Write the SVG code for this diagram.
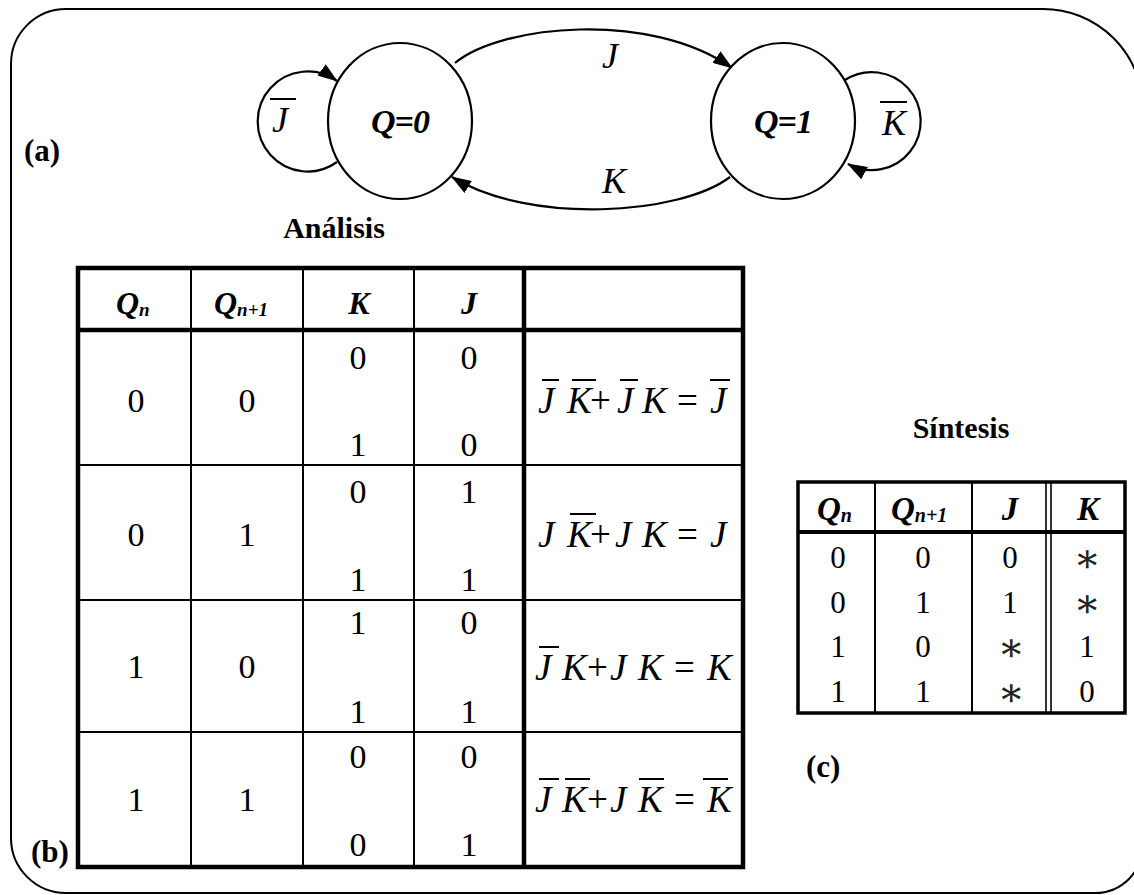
<svg xmlns="http://www.w3.org/2000/svg" width="1134" height="895" viewBox="0 0 1134 895">
<defs>
<marker id="arr" markerWidth="20" markerHeight="14" refX="19" refY="7" orient="auto" markerUnits="userSpaceOnUse">
<path d="M0,0 L20,7 L0,14 Z" fill="#000"/>
</marker>
<style>
.t{font-family:"Liberation Serif","Times New Roman",serif;fill:#000}
.bi{font-weight:bold;font-style:italic}
.b{font-weight:bold}
.i{font-style:italic}
.d{font-size:34px;text-anchor:middle}
.ds{font-size:31px;text-anchor:middle}
.ex{font-size:37px;font-style:italic}
.bar{stroke:#000;stroke-width:2}
.node{fill:#fff;stroke:#000;stroke-width:2.2}
.edge{fill:none;stroke:#000;stroke-width:2.2}
.thin{stroke:#000;stroke-width:2}
.thick{stroke:#000;stroke-width:4.5}
.star{font-family:"DejaVu Serif",serif;font-size:40px;text-anchor:middle;fill:#222}
</style>
</defs>
<rect width="1134" height="895" fill="#fff"/>
<path d="M11,64 A55,55 0 0 1 66,9 L1043,9 A100,100 0 0 1 1143,109 L1143,845 A48,48 0 0 1 1095,893 L66,893 A55,55 0 0 1 11,838 Z" fill="none" stroke="#000" stroke-width="2"/>

<g id="connectors">
<path class="edge" d="M337,162 A50,50 0 1 1 337,81" marker-end="url(#arr)"/>
<path class="edge" d="M845,80 A49,49 0 1 1 848,164" marker-end="url(#arr)"/>
<path class="edge" d="M455,63 C500,25 650,10 732,68" marker-end="url(#arr)"/>
<path class="edge" d="M730,177 C680,215 530,225 452,177" marker-end="url(#arr)"/>
<text class="t i" x="272" y="132" font-size="36">J</text>
<line class="bar" x1="270" y1="99" x2="296" y2="99"/>
<text class="t i" x="882" y="135" font-size="36">K</text>
<line class="bar" x1="880" y1="102" x2="907" y2="102"/>
<text class="t i" x="602" y="68" font-size="36">J</text>
<text class="t i" x="602" y="193" font-size="36">K</text>
</g>

<g id="q0">
<ellipse class="node" cx="400" cy="121" rx="72" ry="78"/>
<text class="t bi" x="400" y="133" font-size="34" text-anchor="middle" letter-spacing="-1">Q=0</text>
</g>
<g id="q1">
<ellipse class="node" cx="783" cy="121" rx="72" ry="78"/>
<text class="t bi" x="783" y="133" font-size="34" text-anchor="middle" letter-spacing="-1">Q=1</text>
</g>

<g id="labels">
<text class="t b" x="24" y="161" font-size="31">(a)</text>
<text class="t b" x="334" y="238" font-size="30" text-anchor="middle">Análisis</text>
<text class="t b" x="31" y="862" font-size="31">(b)</text>
<text class="t b" x="961" y="438" font-size="30" text-anchor="middle">Síntesis</text>
<text class="t b" x="806" y="777" font-size="31">(c)</text>
</g>

<g id="table-analisis">
<line class="thin" x1="191" y1="268" x2="191" y2="867"/>
<line class="thin" x1="303" y1="268" x2="303" y2="867"/>
<line class="thin" x1="414" y1="268" x2="414" y2="867"/>
<line class="thin" x1="78" y1="465" x2="743" y2="465"/>
<line class="thin" x1="78" y1="600" x2="743" y2="600"/>
<line class="thin" x1="78" y1="732" x2="743" y2="732"/>
<line class="thick" x1="78" y1="330" x2="743" y2="330"/>
<line class="thick" x1="524" y1="268" x2="524" y2="867"/>
<rect x="78" y="268" width="665" height="599" fill="none" stroke="#000" stroke-width="4.5"/>
<text class="t bi" x="116" y="314" font-size="32">Q<tspan font-size="19" dy="2">n</tspan></text>
<text class="t bi" x="214" y="314" font-size="32">Q<tspan font-size="19" dy="2">n+1</tspan></text>
<text class="t bi" x="359" y="314" font-size="32" text-anchor="middle">K</text>
<text class="t bi" x="469" y="314" font-size="32" text-anchor="middle">J</text>

<text class="t d" x="136" y="412">0</text><text class="t d" x="247" y="412">0</text>
<text class="t d" x="358" y="369">0</text><text class="t d" x="469" y="369">0</text>
<text class="t d" x="358" y="456">1</text><text class="t d" x="469" y="456">0</text>

<text class="t d" x="136" y="546">0</text><text class="t d" x="247" y="546">1</text>
<text class="t d" x="358" y="503">0</text><text class="t d" x="469" y="503">1</text>
<text class="t d" x="358" y="591">1</text><text class="t d" x="469" y="591">1</text>

<text class="t d" x="136" y="678">1</text><text class="t d" x="247" y="678">0</text>
<text class="t d" x="358" y="634">1</text><text class="t d" x="469" y="634">0</text>
<text class="t d" x="358" y="723">1</text><text class="t d" x="469" y="723">1</text>

<text class="t d" x="136" y="811">1</text><text class="t d" x="247" y="811">1</text>
<text class="t d" x="358" y="768">0</text><text class="t d" x="469" y="768">0</text>
<text class="t d" x="358" y="856">0</text><text class="t d" x="469" y="856">1</text>

<text class="t ex" y="413"><tspan x="538">J</tspan><tspan x="567">K</tspan><tspan x="590" font-style="normal">+</tspan><tspan x="617">J</tspan><tspan x="642">K</tspan><tspan x="677" font-style="normal">=</tspan><tspan x="710">J</tspan></text>
<line class="bar" x1="542" y1="380" x2="559" y2="380"/>
<line class="bar" x1="572" y1="380" x2="596" y2="380"/>
<line class="bar" x1="620" y1="380" x2="638" y2="380"/>
<line class="bar" x1="710" y1="380" x2="730" y2="380"/>

<text class="t ex" y="547"><tspan x="538">J</tspan><tspan x="567">K</tspan><tspan x="590" font-style="normal">+</tspan><tspan x="615">J</tspan><tspan x="642">K</tspan><tspan x="677" font-style="normal">=</tspan><tspan x="710">J</tspan></text>
<line class="bar" x1="570" y1="514" x2="596" y2="514"/>

<text class="t ex" y="680"><tspan x="535">J</tspan><tspan x="562">K</tspan><tspan x="587" font-style="normal">+</tspan><tspan x="610">J</tspan><tspan x="638">K</tspan><tspan x="674" font-style="normal">=</tspan><tspan x="707">K</tspan></text>
<line class="bar" x1="539" y1="647" x2="559" y2="647"/>

<text class="t ex" y="812"><tspan x="535">J</tspan><tspan x="562">K</tspan><tspan x="587" font-style="normal">+</tspan><tspan x="610">J</tspan><tspan x="638">K</tspan><tspan x="674" font-style="normal">=</tspan><tspan x="707">K</tspan></text>
<line class="bar" x1="539" y1="779" x2="559" y2="779"/>
<line class="bar" x1="565" y1="779" x2="590" y2="779"/>
<line class="bar" x1="639" y1="779" x2="664" y2="779"/>
<line class="bar" x1="703" y1="779" x2="728" y2="779"/>
</g>

<g id="table-sintesis">
<line class="thin" x1="875" y1="482" x2="875" y2="713"/>
<line class="thin" x1="972" y1="482" x2="972" y2="713"/>
<line stroke="#000" stroke-width="1.6" x1="1046" y1="482" x2="1046" y2="713"/>
<line stroke="#000" stroke-width="1.6" x1="1051" y1="482" x2="1051" y2="713"/>
<line stroke="#000" stroke-width="4" x1="798" y1="532" x2="1125" y2="532"/>
<rect x="798" y="482" width="327" height="231" fill="none" stroke="#000" stroke-width="3.5"/>
<text class="t bi" x="817" y="520" font-size="33">Q<tspan font-size="20" dy="2">n</tspan></text>
<text class="t bi" x="891" y="520" font-size="33">Q<tspan font-size="20" dy="2">n+1</tspan></text>
<text class="t bi" x="1010" y="520" font-size="33" text-anchor="middle">J</text>
<text class="t bi" x="1088" y="520" font-size="33" text-anchor="middle">K</text>

<text class="t ds" x="838" y="568">0</text><text class="t ds" x="923" y="568">0</text><text class="t ds" x="1010" y="568">0</text><text class="star" x="1087" y="572">∗</text>
<text class="t ds" x="838" y="613">0</text><text class="t ds" x="923" y="613">1</text><text class="t ds" x="1010" y="613">1</text><text class="star" x="1087" y="617">∗</text>
<text class="t ds" x="838" y="657">1</text><text class="t ds" x="923" y="657">0</text><text class="star" x="1011" y="661">∗</text><text class="t ds" x="1087" y="657">1</text>
<text class="t ds" x="838" y="702">1</text><text class="t ds" x="923" y="702">1</text><text class="star" x="1011" y="706">∗</text><text class="t ds" x="1087" y="702">0</text>
</g>
</svg>
